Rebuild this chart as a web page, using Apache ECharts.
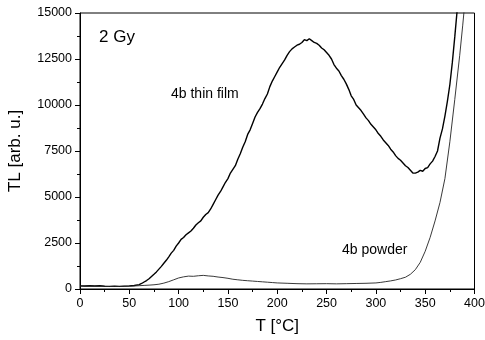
<!DOCTYPE html>
<html><head><meta charset="utf-8">
<script src="https://cdn.jsdelivr.net/npm/echarts@6/dist/echarts.min.js"></script>
<style>html,body{margin:0;padding:0;background:#fff}#c{width:485px;height:340px}</style>
</head><body><div id="c"></div>
<script>
const xTicks = [0, 50, 100, 150, 200, 250, 300, 350, 400];
const yTicks = [0, 2500, 5000, 7500, 10000, 12500, 15000];

const filmT = [0,5,10,15,20,25,30,35,40,45,50,55,60,62.5,65,67.5,70,72.5,75,77.5,80,82.5,85,87.5,90,92.5,95,97.5,100,102.5,105,107.5,110,112.5,115,117.5,120,122.5,125,127.5,130,132.5,135,137.5,140,142.5,145,147.5,150,152.5,155,157.5,160,162.5,165,167.5,170,172.5,175,177.5,180,182.5,185,187.5,190,192.5,195,197.5,200,202.5,205,207.5,210,212.5,215,217.5,220,222.5,225,227.5,230,232.5,235,237.5,240,242.5,245,247.5,250,252.5,255,257.5,260,262.5,265,267.5,270,272.5,275,277.5,280,282.5,285,287.5,290,292.5,295,297.5,300,302.5,305,307.5,310,312.5,315,317.5,320,322.5,325,327.5,330,332.5,335,337.5,340,342.5,345,347.5,350,352.5,355,357.5,360,362.5,365,367.5,370,372.5,375,377.5,380,382.5,385];
const filmTL = [170,160,180,160,175,150,145,155,140,155,170,190,240,300,380,460,560,680,800,930,1080,1230,1400,1560,1750,1950,2100,2330,2500,2700,2800,2950,3050,3150,3300,3480,3600,3700,3900,4050,4150,4350,4600,4850,5100,5300,5550,5800,6000,6300,6500,6700,7050,7350,7700,8000,8400,8650,9000,9350,9600,9800,10050,10350,10600,11000,11300,11550,11800,12050,12250,12450,12700,12900,13050,13150,13250,13300,13400,13550,13500,13600,13500,13400,13350,13250,13100,13000,12850,12700,12500,12200,12000,11850,11600,11400,11150,10850,10500,10300,10000,9850,9700,9500,9300,9150,8950,8800,8650,8450,8300,8100,7950,7800,7600,7450,7250,7100,7000,6850,6700,6600,6450,6300,6300,6350,6450,6400,6550,6600,6800,6950,7200,7500,8200,8700,9400,10200,11100,12300,13700,15200,16500];

const powderT = [0,5,10,15,20,25,30,35,40,45,50,55,60,65,70,75,80,85,90,95,100,105,110,115,120,125,130,135,140,145,150,155,160,165,170,175,180,185,190,195,200,210,220,230,240,250,260,270,280,290,300,305,310,315,320,325,330,335,340,345,350,355,360,365,370,375,380,385,388,391];
const powderTL = [160,150,165,150,155,140,135,140,135,145,150,165,180,195,210,230,260,320,400,500,600,660,700,690,720,740,710,690,650,620,580,530,500,470,450,430,410,390,370,350,330,310,290,280,285,290,280,290,300,310,330,360,400,440,490,560,640,800,1050,1450,2050,2800,3700,4700,6000,8000,10300,12700,14300,16000];

const film = filmT.map((t, i) => [t, filmTL[i]]);
const powder = powderT.map((t, i) => [t, powderTL[i]]);

const chart = echarts.init(document.getElementById('c'), null, {renderer: 'canvas'});
const font = 'Liberation Sans, Arial, sans-serif';
chart.setOption({
  animation: false,
  backgroundColor: '#fff',
  grid: {left: 80, right: 10.5, top: 13, bottom: 51, containLabel: false, outerBoundsMode: 'none',
         show: true, borderColor: '#000', borderWidth: 1, backgroundColor: 'transparent'},
  xAxis: {
    type: 'value', min: 0, max: 400, interval: 50,
    name: 'T [°C]', nameLocation: 'middle', nameGap: 29,
    nameTextStyle: {fontFamily: font, fontSize: 17, color: '#000'},
    axisLine: {lineStyle: {color: '#000', width: 1}},
    axisTick: {show: true, inside: false, length: 5, lineStyle: {color: '#000'}},
    minorTick: {show: true, splitNumber: 2, length: 3, lineStyle: {color: '#000'}},
    axisLabel: {fontFamily: font, fontSize: 12.5, color: '#000', margin: 8, formatter: v => xTicks.includes(v) ? String(v) : ''},
    splitLine: {show: false}
  },
  yAxis: {
    type: 'value', min: 0, max: 15000, interval: 2500,
    name: 'TL [arb. u.]', nameLocation: 'middle', nameGap: 56,
    nameTextStyle: {fontFamily: font, fontSize: 17, color: '#000'},
    axisLine: {show: true, lineStyle: {color: '#000', width: 1}},
    axisTick: {show: true, inside: false, length: 5, lineStyle: {color: '#000'}},
    minorTick: {show: true, splitNumber: 2, length: 3, lineStyle: {color: '#000'}},
    axisLabel: {fontFamily: font, fontSize: 12.5, color: '#000', margin: 8, formatter: v => yTicks.includes(v) ? String(v) : ''},
    splitLine: {show: false}
  },
  series: [
    {name: '4b thin film', type: 'line', data: film, showSymbol: false, clip: true,
     lineStyle: {color: '#000', width: 1.4}},
    {name: '4b powder', type: 'line', data: powder, showSymbol: false, clip: true,
     lineStyle: {color: '#222', width: 0.9}}
  ],
  graphic: [
    {type: 'text', left: 99, top: 29, style: {text: '2 Gy', font: '17px ' + font, fill: '#000'}},
    {type: 'text', left: 171, top: 87, style: {text: '4b thin film', font: '14px ' + font, fill: '#000'}},
    {type: 'text', left: 342, top: 243, style: {text: '4b powder', font: '14px ' + font, fill: '#000'}}
  ]
});
</script></body></html>
